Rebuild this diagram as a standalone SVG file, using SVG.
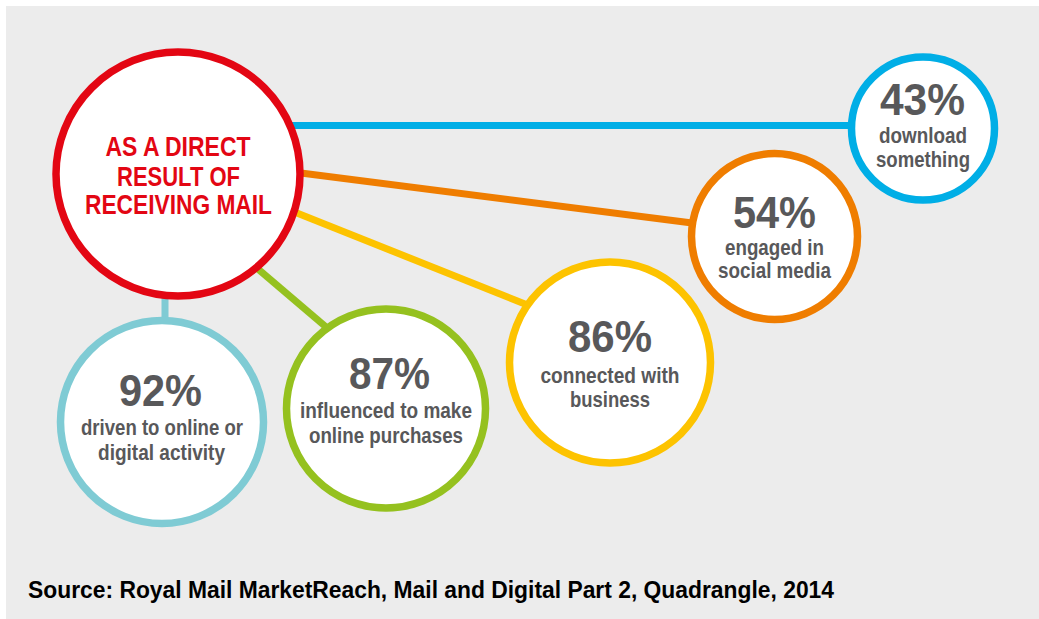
<svg xmlns="http://www.w3.org/2000/svg" width="1039" height="619" viewBox="0 0 1039 619">
<style>
.ring{fill:#fff;stroke-width:7.5}
.big{font-family:"Liberation Sans Narrow","Liberation Sans",Arial,sans-serif;font-weight:bold;font-size:45px;fill:#58585a;text-anchor:middle}
.lbl{font-family:"Liberation Sans Narrow","Liberation Sans",Arial,sans-serif;font-weight:bold;font-size:22px;fill:#58585a;text-anchor:middle}
.hub{font-family:"Liberation Sans Narrow","Liberation Sans",Arial,sans-serif;font-weight:bold;font-size:28px;fill:#e30613;text-anchor:middle}
.src{font-family:"Liberation Sans Narrow","Liberation Sans",Arial,sans-serif;font-weight:bold;font-size:24px;fill:#000}
.con{stroke-width:7;fill:none}
</style>
<rect x="0" y="0" width="1039" height="619" fill="#fff"/>
<rect x="6" y="6" width="1033" height="613" fill="#ececec"/>
<g id="connectors">
<line class="con" x1="290" y1="125.5" x2="860" y2="125.5" stroke="#00aee6"/>
<line class="con" x1="295" y1="172.2" x2="700" y2="224" stroke="#ef7d00"/>
<line class="con" x1="290" y1="210.2" x2="535" y2="308" stroke="#fdc300"/>
<line class="con" x1="250" y1="262.3" x2="335" y2="334.7" stroke="#95c11f"/>
<line class="con" x1="165" y1="290" x2="165" y2="325" stroke="#7fcbd4"/>
</g>
<g id="hub">
<circle class="ring" cx="178" cy="174" r="122" stroke="#e30613" stroke-width="8"/>
<text class="hub" x="178" y="156" textLength="145" lengthAdjust="spacingAndGlyphs">AS A DIRECT</text>
<text class="hub" x="178.5" y="186" textLength="123" lengthAdjust="spacingAndGlyphs">RESULT OF</text>
<text class="hub" x="178.5" y="214" textLength="187" lengthAdjust="spacingAndGlyphs">RECEIVING MAIL</text>
</g>
<g id="n43">
<circle class="ring" cx="923" cy="128.5" r="71.5" stroke="#00aee6"/>
<text class="big" x="922.5" y="114.5" textLength="85" lengthAdjust="spacingAndGlyphs">43%</text>
<text class="lbl" x="923" y="142.5" textLength="88" lengthAdjust="spacingAndGlyphs">download</text>
<text class="lbl" x="923" y="166.5" textLength="94" lengthAdjust="spacingAndGlyphs">something</text>
</g>
<g id="n54">
<circle class="ring" cx="774.5" cy="236.5" r="83" stroke="#ef7d00"/>
<text class="big" x="774.5" y="228" textLength="83" lengthAdjust="spacingAndGlyphs">54%</text>
<text class="lbl" x="774.5" y="255" textLength="99" lengthAdjust="spacingAndGlyphs">engaged in</text>
<text class="lbl" x="774.5" y="278" textLength="113" lengthAdjust="spacingAndGlyphs">social media</text>
</g>
<g id="n86">
<circle class="ring" cx="610" cy="362.5" r="100.5" stroke="#fdc300"/>
<text class="big" x="610" y="351.5" textLength="84" lengthAdjust="spacingAndGlyphs">86%</text>
<text class="lbl" x="610" y="382.5" textLength="139" lengthAdjust="spacingAndGlyphs">connected with</text>
<text class="lbl" x="610" y="406.5" textLength="80" lengthAdjust="spacingAndGlyphs">business</text>
</g>
<g id="n87">
<circle class="ring" cx="386" cy="408.5" r="99.5" stroke="#95c11f"/>
<text class="big" x="389.5" y="388.5" textLength="81" lengthAdjust="spacingAndGlyphs">87%</text>
<text class="lbl" x="386" y="418" textLength="172" lengthAdjust="spacingAndGlyphs">influenced to make</text>
<text class="lbl" x="386" y="442.5" textLength="154" lengthAdjust="spacingAndGlyphs">online purchases</text>
</g>
<g id="n92">
<circle class="ring" cx="162" cy="422" r="101.5" stroke="#7fcbd4"/>
<text class="big" x="160.5" y="406" textLength="83" lengthAdjust="spacingAndGlyphs">92%</text>
<text class="lbl" x="162" y="435" textLength="162" lengthAdjust="spacingAndGlyphs">driven to online or</text>
<text class="lbl" x="161.5" y="460" textLength="127" lengthAdjust="spacingAndGlyphs">digital activity</text>
</g>
<text class="src" x="28" y="598" textLength="806" lengthAdjust="spacingAndGlyphs">Source: Royal Mail MarketReach, Mail and Digital Part 2, Quadrangle, 2014</text>
</svg>
